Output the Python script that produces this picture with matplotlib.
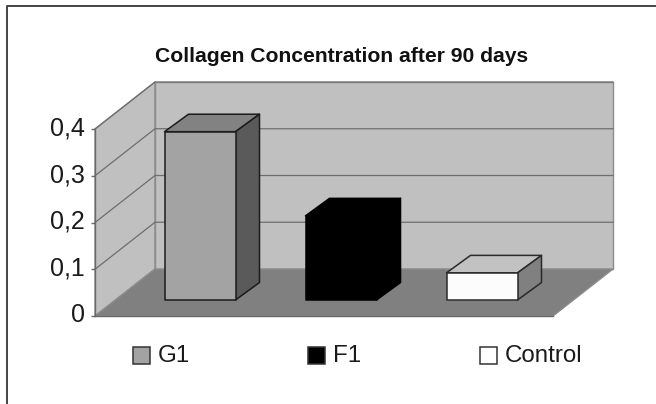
#!/usr/bin/env python3
import matplotlib
import matplotlib.pyplot as plt
from matplotlib.patches import Polygon, Rectangle
from matplotlib.transforms import ScaledTranslation

matplotlib.use("Agg")
plt.rcParams['font.family'] = ['Liberation Sans', 'DejaVu Sans']

title = 'Collagen Concentration after 90 days'
categories = ['G1', 'F1', 'Control']
values = [0.36, 0.18, 0.058]
yticks = [0, 0.1, 0.2, 0.3, 0.4]
yticklabels = ['0', '0,1', '0,2', '0,3', '0,4']

W, H = 656, 404
# front plane of the box in pixels
x0, x1, ybot, ytop = 95, 553, 316, 129
# one bar = 141 px, first bar centre at 200 px
xmin, xmax = 1-105/141, 3+71/141
dx_wall = 60/141
dy_wall = 47/187*0.4
dx_bar = 24/141
dy_bar = 17.5/187*0.4
barw = 71/141
lift = 16/187*0.4

wallc = '#c0c0c0'
floorc = '#808080'
edgec = '#8c8c8c'
barcols = [('#a3a3a3', '#828282', '#5a5a5a', '#1c1c1c'),
           ('#000000', '#000000', '#000000', '#000000'),
           ('#fcfcfc', '#c2c2c2', '#808080', '#2a2a2a')]

fig = plt.figure(figsize=(W/100, H/100), dpi=100)
ax = fig.add_axes([x0/W, 1-ybot/H, (x1-x0)/W, (ybot-ytop)/H])
ax.set_xlim(xmin, xmax)
ax.set_ylim(0, 0.4)
ax.patch.set_visible(False)
for s in ['top', 'right', 'bottom']:
	ax.spines[s].set_visible(False)
ax.spines['left'].set_color('#6a6a6a')
ax.spines['left'].set_linewidth(1.0)
ax.set_xticks([])
ax.set_yticks(yticks)
ax.set_yticklabels(yticklabels, fontsize=18, color='#1a1a1a')
ax.tick_params(axis='y', length=3, width=1, color='#6a6a6a', pad=4.5)
# labels sit a little above their ticks in the original
for lab in ax.get_yticklabels():
	lab.set_transform(lab.get_transform()+ScaledTranslation(0, 3/100, fig.dpi_scale_trans))

def poly(pts, fc, ec, lw=1.0, z=1):
	ax.add_patch(Polygon(pts, closed=True, facecolor=fc, edgecolor=ec, linewidth=lw,
		clip_on=False, zorder=z, joinstyle='round'))

# side wall, back wall, floor
poly([(xmin, 0), (xmin+dx_wall, dy_wall), (xmin+dx_wall, 0.4+dy_wall), (xmin, 0.4)], wallc, edgec)
poly([(xmin+dx_wall, dy_wall), (xmax+dx_wall, dy_wall), (xmax+dx_wall, 0.4+dy_wall), (xmin+dx_wall, 0.4+dy_wall)], wallc, edgec)
poly([(xmin, 0), (xmax, 0), (xmax+dx_wall, dy_wall), (xmin+dx_wall, dy_wall)], floorc, edgec)
ax.plot([xmin, xmax], [0, 0], color='#666666', lw=1.0, clip_on=False, zorder=2)

# gridlines on walls
for t in yticks[1:]:
	ax.plot([xmin, xmin+dx_wall, xmax+dx_wall], [t, t+dy_wall, t+dy_wall], color='#6e6e6e', lw=0.9,
		clip_on=False, zorder=2)

# bars
for i, v in enumerate(values):
	c = i+1
	l, r = c-barw/2, c+barw/2
	b, t = lift, lift+v
	front, top, side, ec = barcols[i]
	poly([(l, t), (r, t), (r+dx_bar, t+dy_bar), (l+dx_bar, t+dy_bar)], top, ec, 1.1, 3)
	poly([(r, b), (r+dx_bar, b+dy_bar), (r+dx_bar, t+dy_bar), (r, t)], side, ec, 1.1, 3)
	poly([(l, b), (r, b), (r, t), (l, t)], front, ec, 1.1, 4)

# title, legend and the frame are placed in figure pixels
def figx(x):
	return x/W
def figy(y):
	return 1-y/H

fig.text(figx(341.5), figy(56), title, fontsize=15.2, fontweight='bold', ha='center', va='center', color='#111111')

legx = [133, 308, 480]
legcols = ['#a3a3a3', '#000000', '#ffffff']
for name, lx, col in zip(categories, legx, legcols):
	fig.add_artist(Rectangle((figx(lx), figy(364)), 17/W, 17/H, transform=fig.transFigure,
		facecolor=col, edgecolor='#333333', linewidth=1.1))
	fig.text(figx(lx+25), figy(356.5), name, fontsize=17.4, ha='left', va='center', color='#1a1a1a')

fig.add_artist(plt.Line2D([figx(7), figx(7), figx(655)], [0, figy(5.5), figy(5.5)], color='#444444', lw=1.4))

fig.savefig('out.png', dpi=100, facecolor='white')
